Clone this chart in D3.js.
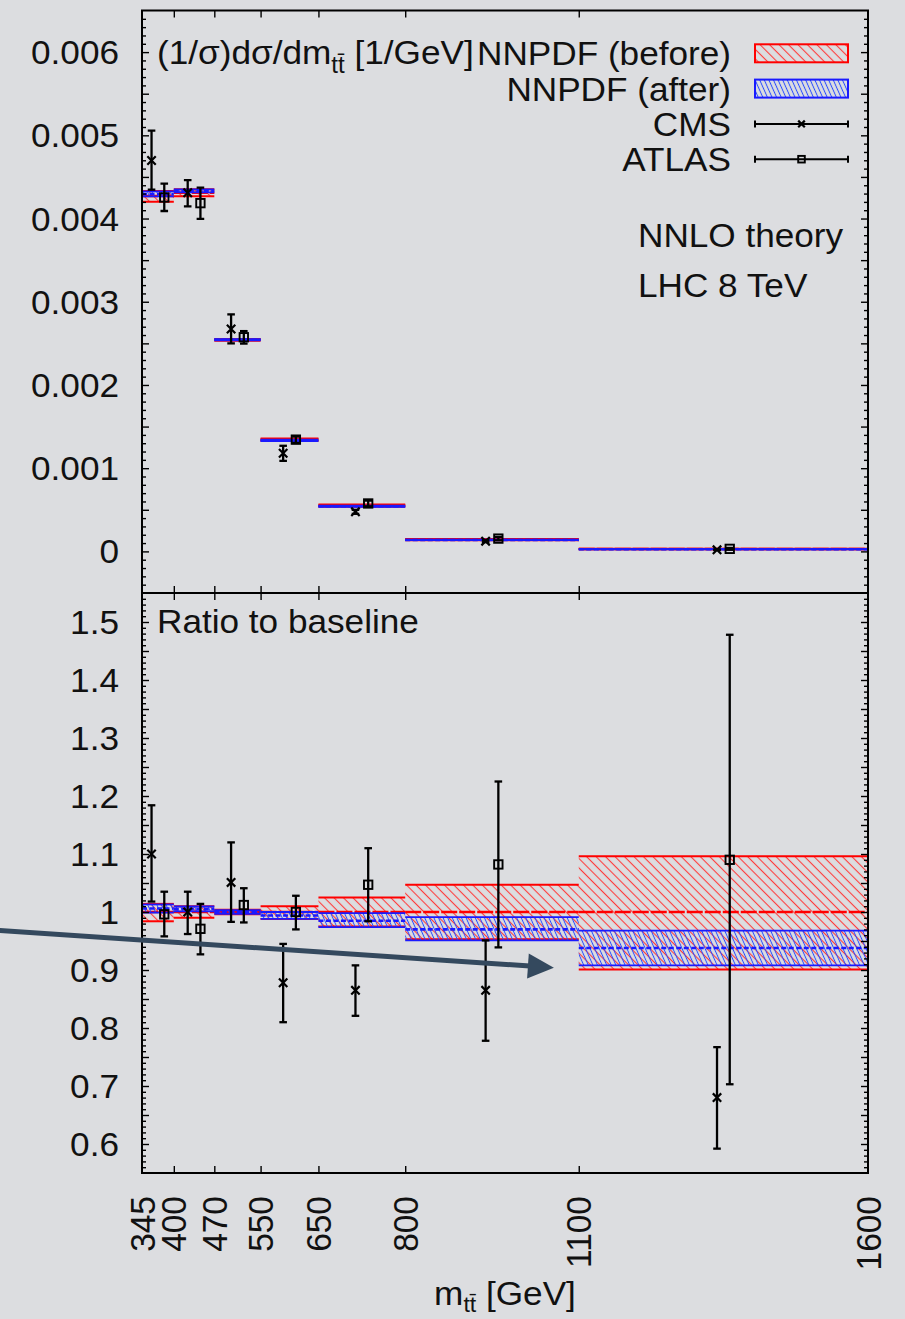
<!DOCTYPE html>
<html>
<head>
<meta charset="utf-8">
<script src="https://cdn.jsdelivr.net/npm/d3@7"></script>
<style>
  html, body { margin: 0; padding: 0; background: #dcdde0; }
  svg { display: block; font-family: "Liberation Sans", Arial, Helvetica, sans-serif; }
</style>
</head>
<body>
<svg id="chart" width="905" height="1319"></svg>
<script>
// ---- data ---------------------------------------------------------------
// m_tt bins [GeV]
const binEdges = [345, 400, 470, 550, 650, 800, 1100, 1600];
// baseline prediction (1/sigma) dsigma/dm_tt [1/GeV] per bin
const baseline = [0.00427, 0.00431, 0.002543, 0.001343, 0.00055, 0.000142, 0.000028];

// NNPDF (before) band, as ratio to baseline
const beforeMid = [1, 1, 1, 1, 1, 1, 1];
const beforeLo  = [0.984, 0.990, 0.996, 0.988, 0.975, 0.953, 0.901];
const beforeHi  = [1.014, 1.010, 1.004, 1.010, 1.025, 1.047, 1.096];

// NNPDF (after) band, as ratio to baseline
const afterMid = [1.006, 1.005, 1.000, 0.994, 0.985, 0.970, 0.938];
const afterLo  = [0.999, 1.001, 0.997, 0.988, 0.974, 0.951, 0.908];
const afterHi  = [1.013, 1.0095, 1.003, 1.000, 0.998, 0.991, 0.968];

// CMS data, ratio to baseline, with error range
const cmsVal = [1.100, 1.000, 1.051, 0.878, 0.865, 0.865, 0.680];
const cmsLo  = [1.018, 0.962, 0.983, 0.810, 0.821, 0.778, 0.592];
const cmsHi  = [1.184, 1.035, 1.120, 0.945, 0.908, 0.951, 0.767];

// ATLAS data, ratio to baseline, with error range
const atlasVal = [0.996, 0.971, 1.012, 1.000, 1.047, 1.082, 1.090];
const atlasLo  = [0.958, 0.927, 0.982, 0.970, 0.984, 0.939, 0.703];
const atlasHi  = [1.035, 1.014, 1.041, 1.028, 1.110, 1.225, 1.478];

// axis tick labels
const xTickValues = [345, 400, 470, 550, 650, 800, 1100, 1600];
const topTickValues = [0, 0.001, 0.002, 0.003, 0.004, 0.005, 0.006];
const topTickLabels = ["0", "0.001", "0.002", "0.003", "0.004", "0.005", "0.006"];
const ratioTickValues = [0.6, 0.7, 0.8, 0.9, 1.0, 1.1, 1.2, 1.3, 1.4, 1.5];
const ratioTickLabels = ["0.6", "0.7", "0.8", "0.9", "1", "1.1", "1.2", "1.3", "1.4", "1.5"];

// annotation arrow, in data units (m_tt, ratio)
const arrowFrom = [98, 0.968];
const arrowTo = [1057, 0.904];

// ---- layout -------------------------------------------------------------
const L = 142, R = 868, T = 10.5, MID = 593, B = 1173;
const FS = 33.5, SX = 1.05;       // font size and horizontal text stretch
const dodge = 11;                 // GeV offset of CMS / ATLAS points from bin centre

const svg = d3.select("#chart");
svg.append("rect").attr("width", 905).attr("height", 1319).attr("fill", "#dcdde0");

const x = d3.scaleLinear().domain([345, 1600]).range([L, R]);
const yTop = d3.scaleLinear().domain([-0.0005, 0.0065]).range([MID, T]);
const yRat = d3.scaleLinear().domain([0.55, 1.55]).range([B, MID]);

// ---- hatch patterns -----------------------------------------------------
const defs = svg.append("defs");
function hatch(id, w, angle, color, sw) {
  const p = defs.append("pattern").attr("id", id)
    .attr("patternUnits", "userSpaceOnUse")
    .attr("width", w).attr("height", 20)
    .attr("patternTransform", `rotate(${angle})`);
  p.append("line").attr("x1", w / 2).attr("x2", w / 2).attr("y1", -1).attr("y2", 21)
    .attr("stroke", color).attr("stroke-width", sw);
}
hatch("hatchRed", 6.7, -45, "#ff3b3b", 1.1);
hatch("hatchBlue", 4.2, -24, "#2a4cff", 1.0);

defs.append("clipPath").attr("id", "clipTop").append("rect")
  .attr("x", L).attr("y", T).attr("width", R - L).attr("height", MID - T);
defs.append("clipPath").attr("id", "clipRat").append("rect")
  .attr("x", L).attr("y", MID).attr("width", R - L).attr("height", B - MID);

// ---- text helper --------------------------------------------------------
function label(parent, px, py, str, anchor = "start", rot = 0, size = FS) {
  const g = parent.append("g")
    .attr("transform", `translate(${px},${py}) scale(${SX},1)` + (rot ? ` rotate(${rot})` : ""));
  const t = g.append("text").attr("text-anchor", anchor)
    .attr("font-size", size).attr("fill", "#111");
  if (str !== null) t.text(str);
  return t;
}

// ---- bands and points ---------------------------------------------------
const bins = d3.range(binEdges.length - 1);

function drawBand(g, y, k, lo, hi, mid, fillId, color, edgeW, midW, dash) {
  const gb = g.append("g");
  gb.selectAll("rect").data(bins).join("rect")
    .attr("x", i => x(binEdges[i])).attr("width", i => x(binEdges[i + 1]) - x(binEdges[i]))
    .attr("y", i => y(hi[i] * k(i))).attr("height", i => Math.max(0, y(lo[i] * k(i)) - y(hi[i] * k(i))))
    .attr("fill", `url(#${fillId})`);
  [lo, hi].forEach(arr => {
    gb.append("g").selectAll("line").data(bins).join("line")
      .attr("x1", i => x(binEdges[i])).attr("x2", i => x(binEdges[i + 1]))
      .attr("y1", i => y(arr[i] * k(i))).attr("y2", i => y(arr[i] * k(i)))
      .attr("stroke", color).attr("stroke-width", edgeW);
  });
  gb.append("g").selectAll("line").data(bins).join("line")
    .attr("x1", i => x(binEdges[i])).attr("x2", i => x(binEdges[i + 1]))
    .attr("y1", i => y(mid[i] * k(i))).attr("y2", i => y(mid[i] * k(i)))
    .attr("stroke", color).attr("stroke-width", midW).attr("stroke-dasharray", dash);
}

function drawPoints(g, y, k, val, lo, hi, shift, marker) {
  const gp = g.append("g");
  const cx = i => x((binEdges[i] + binEdges[i + 1]) / 2 + shift);
  gp.selectAll("line.bar").data(bins).join("line").attr("class", "bar")
    .attr("x1", cx).attr("x2", cx)
    .attr("y1", i => y(lo[i] * k(i))).attr("y2", i => y(hi[i] * k(i)))
    .attr("stroke", "#000").attr("stroke-width", 2.3);
  [lo, hi].forEach(arr => {
    gp.append("g").selectAll("line").data(bins).join("line")
      .attr("x1", i => cx(i) - 3.8).attr("x2", i => cx(i) + 3.8)
      .attr("y1", i => y(arr[i] * k(i))).attr("y2", i => y(arr[i] * k(i)))
      .attr("stroke", "#000").attr("stroke-width", 2.3);
  });
  const m = gp.append("g").selectAll("g").data(bins).join("g")
    .attr("transform", i => `translate(${cx(i)},${y(val[i] * k(i))})`);
  drawMarker(m, marker, 4.2);
}

function drawMarker(sel, marker, s) {
  if (marker === "cross") {
    sel.append("path").attr("d", `M${-s},${-s}L${s},${s}M${-s},${s}L${s},${-s}`)
      .attr("stroke", "#000").attr("stroke-width", 2.2).attr("fill", "none");
  } else {
    sel.append("rect").attr("x", -s).attr("y", -s).attr("width", 2 * s).attr("height", 2 * s)
      .attr("stroke", "#000").attr("stroke-width", 1.9).attr("fill", "none");
  }
}

function drawPanel(clipId, y, k) {
  const g = svg.append("g").attr("clip-path", `url(#${clipId})`);
  drawBand(g, y, k, beforeLo, beforeHi, beforeMid, "hatchRed", "#ff0000", 2, 2.6, "16,2");
  drawBand(g, y, k, afterLo, afterHi, afterMid, "hatchBlue", "#1a1aff", 1.8, 2.6, "5,2.5");
  drawPoints(g, y, k, cmsVal, cmsLo, cmsHi, -dodge, "cross");
  drawPoints(g, y, k, atlasVal, atlasLo, atlasHi, dodge, "square");
}

drawPanel("clipTop", yTop, i => baseline[i]);
drawPanel("clipRat", yRat, () => 1);

// ---- axes ---------------------------------------------------------------
function styleAxis(g) {
  g.select(".domain").remove();
  g.selectAll(".tick line").attr("stroke", "#000").attr("stroke-width", 1.4);
  g.selectAll(".tick text").remove();
}

function yTicks(y, minorVals, majorVals) {
  [[minorVals, 4], [majorVals, 7]].forEach(([vals, len]) => {
    svg.append("g").attr("transform", `translate(${L},0)`)
      .call(d3.axisLeft(y).tickValues(vals).tickSize(-len)).call(styleAxis);
    svg.append("g").attr("transform", `translate(${R},0)`)
      .call(d3.axisRight(y).tickValues(vals).tickSize(-len)).call(styleAxis);
  });
}

yTicks(yTop,
  d3.range(-4, 65).filter(k => k % 5 !== 0).map(k => k * 1e-4),
  d3.range(0, 65, 5).map(k => k * 1e-4));
yTicks(yRat,
  d3.range(56, 155).filter(k => k % 5 !== 0).map(k => k / 100),
  d3.range(60, 155, 5).map(k => k / 100));

// x ticks on every horizontal frame edge, pointing into the panels
const innerX = xTickValues.slice(1, -1);
[[T, d3.axisTop], [MID, d3.axisBottom], [MID, d3.axisTop], [B, d3.axisBottom]].forEach(([py, ax]) => {
  svg.append("g").attr("transform", `translate(0,${py})`)
    .call(ax(x).tickValues(innerX).tickSize(-7)).call(styleAxis);
});

// frames
[[T, MID], [MID, B]].forEach(([a, b]) => {
  svg.append("rect").attr("x", L).attr("y", a).attr("width", R - L).attr("height", b - a)
    .attr("fill", "none").attr("stroke", "#000").attr("stroke-width", 2);
});

// tick labels
const labels = svg.append("g");
topTickValues.forEach((v, i) => label(labels, 119, yTop(v), topTickLabels[i], "end").attr("dy", "0.36em"));
ratioTickValues.forEach((v, i) => label(labels, 119, yRat(v), ratioTickLabels[i], "end").attr("dy", "0.36em"));
xTickValues.forEach(v => label(labels, x(v), 1196, String(v), "end", -90).attr("dy", "0.36em"));

// x-axis title
const xt = label(labels, (L + R) / 2, 1305, null, "middle");
xt.append("tspan").text("m");
xt.append("tspan").attr("font-size", 22).attr("dy", 7).text("tt\u0304");
xt.append("tspan").attr("dy", -7).text(" [GeV]");

// panel titles
const tt = label(labels, 157, 64, null, "start");
tt.append("tspan").text("(1/\u03c3)d\u03c3/dm");
tt.append("tspan").attr("font-size", 23).attr("dy", 9).text("tt\u0304");
tt.append("tspan").attr("dy", -9).text(" [1/GeV]");
label(labels, 157, 633, "Ratio to baseline", "start");
label(labels, 638, 247, "NNLO theory", "start");
label(labels, 638, 297, "LHC 8 TeV", "start");

// ---- legend -------------------------------------------------------------
const legend = svg.append("g");
const legendNames = ["NNPDF (before)", "NNPDF (after)", "CMS", "ATLAS"];
const rowY = [53.3, 88.6, 123.9, 159.2];
const sx0 = 755, sx1 = 848;
legendNames.forEach((name, i) => {
  label(legend, 731, rowY[i] + 12, name, "end");
});
legend.append("rect").attr("x", sx0).attr("y", rowY[0] - 9).attr("width", sx1 - sx0).attr("height", 18)
  .attr("fill", "url(#hatchRed)").attr("stroke", "#ff0000").attr("stroke-width", 2);
legend.append("rect").attr("x", sx0).attr("y", rowY[1] - 9).attr("width", sx1 - sx0).attr("height", 18)
  .attr("fill", "url(#hatchBlue)").attr("stroke", "#1a1aff").attr("stroke-width", 2);
[["cross", rowY[2]], ["square", rowY[3]]].forEach(([mk, yy]) => {
  legend.append("line").attr("x1", sx0).attr("x2", sx1).attr("y1", yy).attr("y2", yy)
    .attr("stroke", "#000").attr("stroke-width", 2);
  [sx0, sx1].forEach(xx => legend.append("line").attr("x1", xx).attr("x2", xx)
    .attr("y1", yy - 3.5).attr("y2", yy + 3.5).attr("stroke", "#000").attr("stroke-width", 2));
  const m = legend.append("g").attr("transform", `translate(${(sx0 + sx1) / 2},${yy})`);
  drawMarker(m, mk, 3.3);
});

// ---- annotation arrow -----------------------------------------------------
const p0 = [x(arrowFrom[0]), yRat(arrowFrom[1])];
const p1 = [x(arrowTo[0]), yRat(arrowTo[1])];
const len = Math.hypot(p1[0] - p0[0], p1[1] - p0[1]);
const ux = (p1[0] - p0[0]) / len, uy = (p1[1] - p0[1]) / len;
const headL = 26, headW = 12.5;
const base = [p1[0] - ux * headL, p1[1] - uy * headL];
svg.append("line").attr("x1", p0[0]).attr("y1", p0[1]).attr("x2", base[0] + ux * 2).attr("y2", base[1] + uy * 2)
  .attr("stroke", "#34495e").attr("stroke-width", 5);
svg.append("path")
  .attr("d", `M${p1[0]},${p1[1]}L${base[0] - uy * headW},${base[1] + ux * headW}L${base[0] + uy * headW},${base[1] - ux * headW}Z`)
  .attr("fill", "#34495e");
</script>
</body>
</html>
